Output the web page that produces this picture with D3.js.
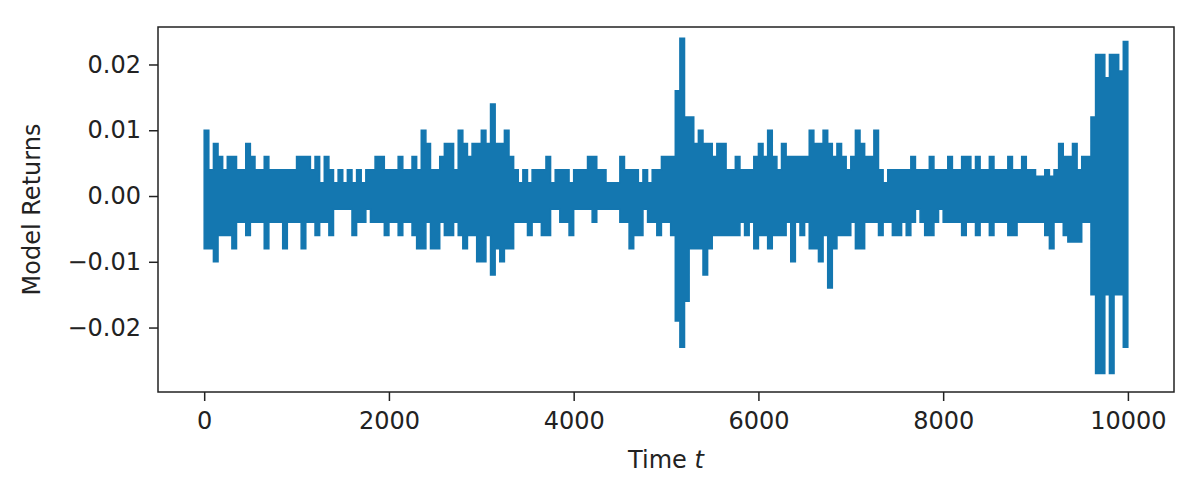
<!DOCTYPE html>
<html lang="en">
<head>
<meta charset="utf-8">
<title>Model Returns</title>
<script src="https://cdn.jsdelivr.net/npm/d3@7"></script>
<style>
  body { margin: 0; background: #fff; }
  svg text { font-family: "DejaVu Sans", sans-serif; fill: #222; }
</style>
</head>
<body>
<script>
// returns envelope, one bin per 50 time steps (0 .. 9999)
var binWidth = 50;
var upper = [
  0.010, 0.004, 0.008, 0.006, 0.004, 0.006, 0.006, 0.004, 0.004, 0.008,
  0.006, 0.004, 0.004, 0.006, 0.004, 0.004, 0.004, 0.004, 0.004, 0.004,
  0.006, 0.006, 0.006, 0.004, 0.006, 0.002, 0.006, 0.004, 0.002, 0.004,
  0.002, 0.004, 0.002, 0.004, 0.002, 0.004, 0.004, 0.006, 0.006, 0.004,
  0.004, 0.004, 0.006, 0.004, 0.004, 0.006, 0.004, 0.010, 0.008, 0.004,
  0.004, 0.006, 0.008, 0.008, 0.004, 0.010, 0.008, 0.006, 0.008, 0.008,
  0.010, 0.008, 0.014, 0.008, 0.008, 0.010, 0.006, 0.004, 0.002, 0.004,
  0.002, 0.004, 0.004, 0.004, 0.006, 0.002, 0.004, 0.004, 0.004, 0.002,
  0.004, 0.004, 0.004, 0.006, 0.006, 0.004, 0.004, 0.002, 0.002, 0.002,
  0.006, 0.004, 0.004, 0.004, 0.002, 0.004, 0.002, 0.004, 0.004, 0.006,
  0.006, 0.006, 0.016, 0.024, 0.012, 0.012, 0.008, 0.010, 0.008, 0.008,
  0.006, 0.008, 0.008, 0.004, 0.004, 0.006, 0.004, 0.004, 0.004, 0.006,
  0.008, 0.006, 0.010, 0.006, 0.004, 0.008, 0.006, 0.006, 0.006, 0.006,
  0.006, 0.010, 0.008, 0.008, 0.010, 0.008, 0.006, 0.008, 0.006, 0.004,
  0.006, 0.010, 0.008, 0.006, 0.006, 0.010, 0.004, 0.002, 0.004, 0.004,
  0.004, 0.004, 0.004, 0.006, 0.004, 0.004, 0.004, 0.006, 0.004, 0.004,
  0.004, 0.006, 0.004, 0.004, 0.006, 0.006, 0.004, 0.006, 0.004, 0.004,
  0.006, 0.004, 0.004, 0.004, 0.006, 0.004, 0.004, 0.006, 0.004, 0.004,
  0.003, 0.003, 0.004, 0.003, 0.004, 0.008, 0.006, 0.006, 0.008, 0.004,
  0.006, 0.006, 0.012, 0.0215, 0.0215, 0.018, 0.0215, 0.0215, 0.019, 0.0235
];
var lower = [
  -0.008, -0.008, -0.010, -0.006, -0.006, -0.006, -0.008, -0.004, -0.004, -0.006,
  -0.004, -0.004, -0.004, -0.008, -0.004, -0.004, -0.004, -0.008, -0.004, -0.004,
  -0.004, -0.008, -0.004, -0.004, -0.006, -0.004, -0.004, -0.006, -0.002, -0.002,
  -0.002, -0.002, -0.006, -0.004, -0.004, -0.002, -0.004, -0.004, -0.004, -0.006,
  -0.004, -0.004, -0.006, -0.004, -0.004, -0.006, -0.008, -0.008, -0.004, -0.008,
  -0.008, -0.004, -0.006, -0.006, -0.004, -0.006, -0.008, -0.006, -0.006, -0.010,
  -0.010, -0.006, -0.012, -0.008, -0.010, -0.008, -0.008, -0.004, -0.004, -0.004,
  -0.006, -0.004, -0.004, -0.006, -0.006, -0.002, -0.002, -0.004, -0.004, -0.006,
  -0.002, -0.002, -0.002, -0.002, -0.004, -0.002, -0.002, -0.002, -0.002, -0.002,
  -0.004, -0.004, -0.008, -0.006, -0.006, -0.002, -0.004, -0.004, -0.006, -0.004,
  -0.004, -0.006, -0.019, -0.023, -0.016, -0.008, -0.008, -0.008, -0.012, -0.008,
  -0.006, -0.006, -0.006, -0.006, -0.006, -0.006, -0.004, -0.006, -0.004, -0.008,
  -0.006, -0.006, -0.008, -0.006, -0.006, -0.006, -0.004, -0.010, -0.004, -0.006,
  -0.004, -0.008, -0.008, -0.010, -0.006, -0.014, -0.008, -0.006, -0.006, -0.006,
  -0.004, -0.008, -0.008, -0.004, -0.004, -0.004, -0.006, -0.004, -0.004, -0.006,
  -0.006, -0.004, -0.006, -0.004, -0.002, -0.004, -0.006, -0.006, -0.004, -0.002,
  -0.004, -0.004, -0.004, -0.004, -0.006, -0.004, -0.004, -0.006, -0.004, -0.004,
  -0.006, -0.004, -0.004, -0.004, -0.006, -0.006, -0.004, -0.004, -0.004, -0.004,
  -0.004, -0.004, -0.006, -0.008, -0.004, -0.004, -0.006, -0.007, -0.007, -0.007,
  -0.004, -0.004, -0.015, -0.027, -0.027, -0.015, -0.027, -0.015, -0.015, -0.023
];
var lastT = 9999;
var xTicks = [0, 2000, 4000, 6000, 8000, 10000];
var yTicks = [-0.02, -0.01, 0.00, 0.01, 0.02];

var w = 1196, h = 490;
var plotLeft = 158, plotRight = 1174, plotTop = 27, plotBottom = 392;

var svg = d3.select("body").append("svg").attr("width", w).attr("height", h);

var x = d3.scaleLinear().domain([-500, 10499]).range([plotLeft, plotRight]);
var y = d3.scaleLinear().domain([-0.0298, 0.0257]).range([plotBottom, plotTop]);

// bins -> points, plus a closing point at the last time step
var pts = upper.map(function(u, i) {
    return { t: i * binWidth, hi: u, lo: lower[i] };
});
pts.push({ t: lastT, hi: upper[upper.length - 1], lo: lower[lower.length - 1] });

var area = d3.area()
    .curve(d3.curveStepAfter)
    .x(function(d) { return x(d.t); })
    .y0(function(d) { return y(d.lo); })
    .y1(function(d) { return y(d.hi); });

svg.append("path")
    .datum(pts)
    .attr("d", area)
    .attr("fill", "#1477b0")
    .attr("stroke", "#1477b0")
    .attr("stroke-width", 1.5);

// axes
var xAxis = svg.append("g")
    .attr("transform", "translate(0," + plotBottom + ")")
    .call(d3.axisBottom(x).tickValues(xTicks).tickFormat(d3.format("d")).tickSize(9).tickPadding(11));
var yAxis = svg.append("g")
    .attr("transform", "translate(" + plotLeft + ",0)")
    .call(d3.axisLeft(y).tickValues(yTicks).tickFormat(d3.format(".2f")).tickSize(9).tickPadding(8));

[xAxis, yAxis].forEach(function(g) {
    g.select(".domain").remove();
    g.selectAll(".tick line").attr("stroke", "#222").attr("stroke-width", 1.5);
    g.selectAll(".tick text").attr("font-size", "24px").attr("fill", "#222")
        .style("font-family", "'DejaVu Sans', sans-serif");
});

// frame
svg.append("rect")
    .attr("x", plotLeft).attr("y", plotTop)
    .attr("width", plotRight - plotLeft).attr("height", plotBottom - plotTop)
    .attr("fill", "none").attr("stroke", "#222").attr("stroke-width", 1.5);

// labels
var xl = svg.append("text")
    .attr("x", (plotLeft + plotRight) / 2).attr("y", 468)
    .attr("text-anchor", "middle").attr("font-size", "24px");
xl.append("tspan").text("Time ");
xl.append("tspan").attr("font-style", "italic").text("t");

svg.append("text")
    .attr("transform", "translate(40," + (plotTop + plotBottom) / 2 + ") rotate(-90)")
    .attr("text-anchor", "middle").attr("font-size", "24px")
    .text("Model Returns");
</script>
</body>
</html>
